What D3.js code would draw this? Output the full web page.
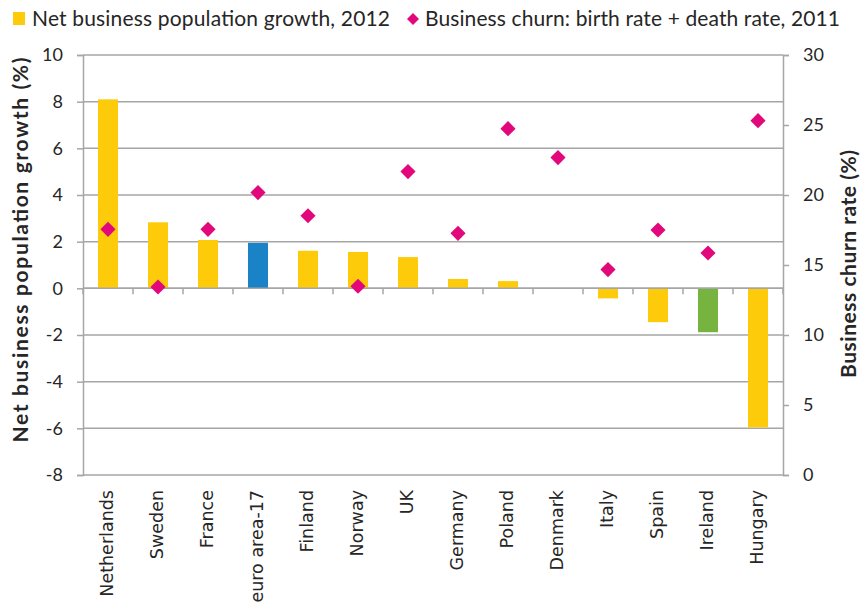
<!DOCTYPE html>
<html>
<head>
<meta charset="utf-8">
<script src="https://cdn.jsdelivr.net/npm/d3@7"></script>
<style>
body { margin: 0; background: #fff; }
svg { display: block; }
</style>
</head>
<body>
<svg id="chart" width="860" height="608"></svg>
<script>
const categories = ["Netherlands","Sweden","France","euro area-17","Finland","Norway","UK","Germany","Poland","Denmark","Italy","Spain","Ireland","Hungary"];
const growth2012 = [8.1, 2.83, 2.07, 1.95, 1.61, 1.56, 1.34, 0.40, 0.31, 0, -0.43, -1.45, -1.88, -5.96];
const churn2011 = [17.55, 13.43, 17.55, 20.17, 18.52, 13.48, 21.67, 17.26, 24.74, 22.67, 14.67, 17.5, 15.86, 25.31];
const barColors = ["#FDCB0A","#FDCB0A","#FDCB0A","#1A82C6","#FDCB0A","#FDCB0A","#FDCB0A","#FDCB0A","#FDCB0A","#FDCB0A","#FDCB0A","#FDCB0A","#76B33F","#FDCB0A"];
const leftTicks = [-8,-6,-4,-2,0,2,4,6,8,10];
const rightTicks = [0,5,10,15,20,25,30];
const legendLabels = ["Net business population growth, 2012", "Business churn: birth rate + death rate, 2011"];
const yLeftTitle = "Net business population growth (%)";
const yRightTitle = "Business churn rate (%)";

const svg = d3.select("#chart");
const m = {left: 83, right: 783, top: 55, bottom: 475};
const font = "Lato, 'Open Sans', sans-serif";
const grid = "#A6A6A6";
const magenta = "#E2087C";
const ink = "#262626";

const x = d3.scaleBand().domain(categories).range([m.left, m.right]).paddingInner(0.6).paddingOuter(0.3);
const yL = d3.scaleLinear().domain([-8, 10]).range([m.bottom, m.top]);
const yR = d3.scaleLinear().domain([0, 30]).range([m.bottom, m.top]);

// gridlines
svg.append("g").selectAll("line").data(leftTicks).join("line")
  .attr("x1", m.left).attr("x2", m.right)
  .attr("y1", d => yL(d)).attr("y2", d => yL(d))
  .attr("stroke", grid).attr("stroke-width", 1.5);

// left axis
const gL = svg.append("g").attr("transform", `translate(${m.left},0)`)
  .call(d3.axisLeft(yL).tickValues(leftTicks).tickSize(6).tickPadding(14).tickFormat(d => String(d)));
gL.select(".domain").attr("stroke", grid).attr("stroke-width", 1.5);
gL.selectAll(".tick line").attr("stroke", grid).attr("stroke-width", 1.5);
gL.selectAll(".tick text").attr("font-family", font).attr("font-size", 18).attr("fill", ink);

// right axis
const gR = svg.append("g").attr("transform", `translate(${m.right},0)`)
  .call(d3.axisRight(yR).tickValues(rightTicks).tickSize(6).tickPadding(14).tickFormat(d => String(d)));
gR.select(".domain").attr("stroke", grid).attr("stroke-width", 1.5);
gR.selectAll(".tick line").attr("stroke", grid).attr("stroke-width", 1.5);
gR.selectAll(".tick text").attr("font-family", font).attr("font-size", 18).attr("fill", ink);

// bars
svg.append("g").selectAll("rect").data(categories).join("rect")
  .attr("x", d => x(d))
  .attr("width", x.bandwidth())
  .attr("y", (d,i) => yL(Math.max(0, growth2012[i])))
  .attr("height", (d,i) => Math.abs(yL(growth2012[i]) - yL(0)))
  .attr("fill", (d,i) => barColors[i]);

// category axis at zero
const gX = svg.append("g").attr("transform", `translate(0,${yL(0)})`);
gX.append("line").attr("x1", m.left).attr("x2", m.right).attr("stroke", grid).attr("stroke-width", 1.5);
gX.selectAll("line.tk").data(d3.range(categories.length + 1)).join("line").attr("class","tk")
  .attr("x1", i => m.left + i * (m.right - m.left) / categories.length)
  .attr("x2", i => m.left + i * (m.right - m.left) / categories.length)
  .attr("y1", 0).attr("y2", 6).attr("stroke", grid).attr("stroke-width", 1.5);

// category labels
svg.append("g").selectAll("text").data(categories).join("text")
  .attr("transform", d => `translate(${x(d) + x.bandwidth()/2},490) rotate(-90)`)
  .attr("text-anchor", "end").attr("dy", "0.3em")
  .attr("font-family", "'DejaVu Sans', sans-serif").attr("font-size", 17.5).attr("fill", ink)
  .text(d => d);

// diamonds
svg.append("g").selectAll("path").data(categories).join("path")
  .attr("d", d3.symbol().type(d3.symbolSquare).size(115))
  .attr("transform", (d,i) => `translate(${x(d) + x.bandwidth()/2},${yR(churn2011[i])}) rotate(45)`)
  .attr("fill", magenta);

// axis titles
svg.append("text")
  .attr("transform", `translate(21,250) rotate(-90)`)
  .attr("text-anchor", "middle").attr("dy", "0.35em")
  .attr("font-family", font).attr("font-weight", "bold").attr("font-size", 21).attr("fill", ink)
  .attr("textLength", 385).attr("lengthAdjust", "spacing")
  .text(yLeftTitle);
svg.append("text")
  .attr("transform", `translate(849,264) rotate(-90)`)
  .attr("text-anchor", "middle").attr("dy", "0.35em")
  .attr("font-family", font).attr("font-weight", "bold").attr("font-size", 21).attr("fill", ink)
  .attr("textLength", 228).attr("lengthAdjust", "spacing")
  .text(yRightTitle);

// legend
const lg = svg.append("g");
lg.append("rect").attr("x", 13).attr("y", 12).attr("width", 12).attr("height", 13).attr("fill", "#FDCB0A");
lg.append("text").attr("x", 32).attr("y", 26).attr("font-family", font).attr("font-size", 21).attr("fill", ink)
  .attr("textLength", 358).attr("lengthAdjust", "spacing").text(legendLabels[0]);
lg.append("path").attr("d", d3.symbol().type(d3.symbolSquare).size(72)).attr("transform", "translate(413,19) rotate(45)").attr("fill", magenta);
lg.append("text").attr("x", 425).attr("y", 26).attr("font-family", font).attr("font-size", 21).attr("fill", ink)
  .attr("textLength", 415).attr("lengthAdjust", "spacing").text(legendLabels[1]);
</script>
</body>
</html>
